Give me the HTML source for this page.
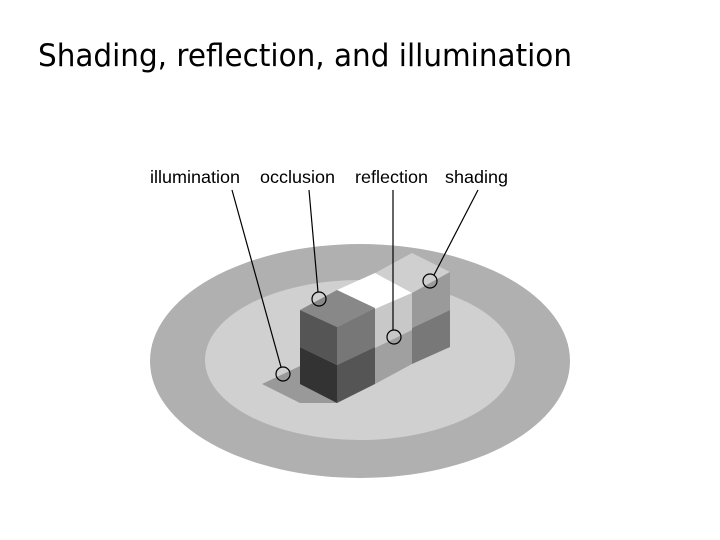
<!DOCTYPE html>
<html><head><meta charset="utf-8"><style>
html,body{margin:0;padding:0;background:#fff;}
svg{display:block;}
</style></head><body>
<svg width="720" height="540" viewBox="0 0 720 540" xmlns="http://www.w3.org/2000/svg">
<text x="38" y="66" font-family="'Comic Sans MS','DejaVu Sans','Liberation Sans',sans-serif" font-size="31" textLength="534" lengthAdjust="spacingAndGlyphs" fill="#000">Shading, reflection, and illumination</text>
<ellipse cx="360" cy="361" rx="210" ry="117" fill="#b0b0b0"/>
<ellipse cx="360" cy="360" rx="155" ry="80" fill="#d0d0d0"/>
<polygon points="262,384 300,366 337,403 300,403" fill="#999"/>
<polygon points="375,273 412,253 450,272 412,293" fill="#cfcfcf"/>
<polygon points="337,290 375,273 412,293 375,309" fill="#fff"/>
<polygon points="375,309 412,293 412,330 375,348" fill="#c8c8c8"/>
<polygon points="375,348 412,330 412,364 375,384" fill="#a0a0a0"/>
<polygon points="412,293 450,272 450,310 412,328" fill="#9a9a9a"/>
<polygon points="412,328 450,310 450,347 412,364" fill="#787878"/>
<polygon points="300,310 337,290 375,308 337,327" fill="#888"/>
<polygon points="300,310 337,327 337,365 300,347" fill="#555"/>
<polygon points="300,347 337,365 337,403 300,384" fill="#333"/>
<polygon points="337,327 375,308 375,347 337,365" fill="#777"/>
<polygon points="337,365 375,347 375,384 337,403" fill="#555"/>
<g stroke="#000" stroke-width="1.2" fill="none">
<line x1="232" y1="190" x2="281" y2="367"/>
<circle cx="283" cy="374" r="7"/>
<line x1="309" y1="190" x2="318" y2="292"/>
<circle cx="319" cy="299" r="7"/>
<line x1="393" y1="190" x2="393" y2="330"/>
<circle cx="394" cy="337" r="7"/>
<line x1="478" y1="190" x2="434" y2="275"/>
<circle cx="430" cy="281" r="7"/>
</g>
<g font-family="'Liberation Sans',Arial,sans-serif" font-size="17.5" fill="#000">
<text x="150" y="183" textLength="90" lengthAdjust="spacingAndGlyphs">illumination</text>
<text x="260" y="183" textLength="75" lengthAdjust="spacingAndGlyphs">occlusion</text>
<text x="355" y="183" textLength="73" lengthAdjust="spacingAndGlyphs">reflection</text>
<text x="445" y="183" textLength="63" lengthAdjust="spacingAndGlyphs">shading</text>
</g>
</svg>
</body></html>
